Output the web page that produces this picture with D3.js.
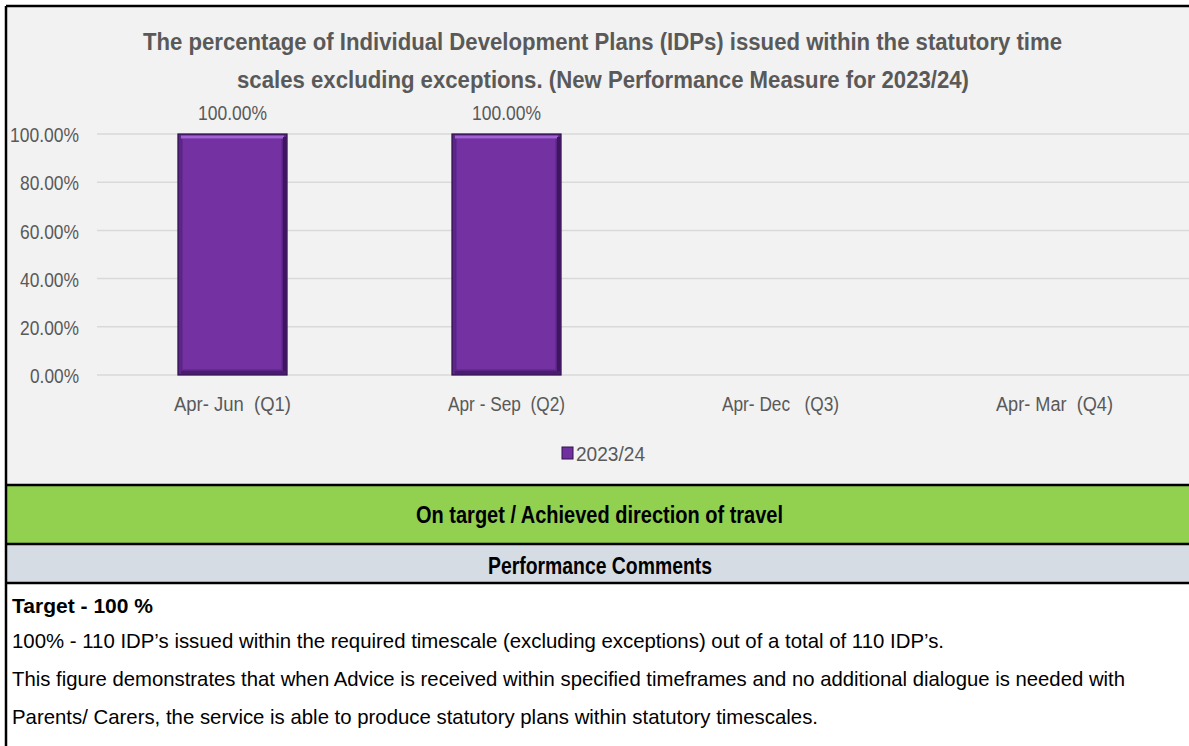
<!DOCTYPE html>
<html>
<head>
<meta charset="utf-8">
<script src="https://cdn.jsdelivr.net/npm/d3@7"></script>
<style>
  html, body { margin: 0; padding: 0; background: #fff; }
  text { font-family: "Liberation Sans Narrow", "Liberation Sans", "DejaVu Sans Condensed", sans-serif; white-space: pre; }
</style>
</head>
<body>
<div id="chart"></div>
<script>
// chart data
const categories = ['Apr- Jun  (Q1)', 'Apr - Sep  (Q2)', 'Apr- Dec   (Q3)', 'Apr- Mar  (Q4)'];
const values2023 = [1, 1, null, null];
const yTicks = [0, 0.2, 0.4, 0.6, 0.8, 1];
const seriesName = '2023/24';
const titleLines = [
  'The percentage of Individual Development Plans (IDPs) issued within the statutory time',
  'scales excluding exceptions. (New Performance Measure for 2023/24)'
];
const statusText = 'On target / Achieved direction of travel';
const commentsHeader = 'Performance Comments';
const commentLines = [
  '100% - 110 IDP\u2019s issued within the required timescale (excluding exceptions) out of a total of 110 IDP\u2019s.',
  'This figure demonstrates that when Advice is received within specified timeframes and no additional dialogue is needed with',
  'Parents/ Carers, the service is able to produce statutory plans within statutory timescales.'
];
const targetText = 'Target - 100 %';

const W = 1189, H = 746;
const svg = d3.select('#chart').append('svg')
  .attr('width', W).attr('height', H)
  .style('display', 'block');

// helper: text fitted to a width
function fitText(g, str, x, y, width, size, opts = {}) {
  return g.append('text')
    .attr('x', x).attr('y', y)
    .attr('text-anchor', opts.anchor || 'start')
    .attr('font-size', size)
    .attr('font-weight', opts.bold ? 'bold' : 'normal')
    .attr('fill', opts.fill || '#595959')
    .attr('textLength', width)
    .attr('lengthAdjust', 'spacingAndGlyphs')
    .text(str);
}

// ✅ Panels
svg.append('rect').attr('x', 6).attr('y', 6).attr('width', W - 6).attr('height', 479).attr('fill', '#f2f2f2');
svg.append('rect').attr('x', 6).attr('y', 486).attr('width', W - 6).attr('height', 58).attr('fill', '#92d050');
svg.append('rect').attr('x', 6).attr('y', 545).attr('width', W - 6).attr('height', 38).attr('fill', '#d6dce4');

const borders = [
  [6, 6, W, 6], [6, 6, 6, H], [6, 485, W, 485], [6, 544, W, 544], [6, 583, W, 583]
];
svg.append('g').selectAll('line').data(borders).join('line')
  .attr('x1', d => d[0]).attr('y1', d => d[1]).attr('x2', d => d[2]).attr('y2', d => d[3])
  .attr('stroke', '#000').attr('stroke-width', 2.5);

// ✅ Title
fitText(svg, titleLines[0], 602.5, 50, 919, 23, { anchor: 'middle', bold: true });
fitText(svg, titleLines[1], 603, 88, 732, 23, { anchor: 'middle', bold: true });

// ✅ Scales
const x = d3.scaleBand().domain(categories).range([95.5, 1191.5]).paddingInner(0.602).paddingOuter(0.301);
const y = d3.scaleLinear().domain([0, 1]).range([375, 134]);

// gridlines
svg.append('g').selectAll('line').data(yTicks).join('line')
  .attr('x1', 97).attr('x2', W)
  .attr('y1', d => y(d)).attr('y2', d => y(d))
  .attr('stroke', '#d9d9d9').attr('stroke-width', 1.5);

// y axis labels
const yAxis = svg.append('g')
  .attr('transform', 'translate(79,0)')
  .call(d3.axisLeft(y).tickValues(yTicks).tickFormat(d3.format('.2%')).tickSize(0).tickPadding(0));
yAxis.select('.domain').remove();
yAxis.selectAll('text')
  .attr('font-size', 20)
  .attr('font-family', '"Liberation Sans Narrow", "Liberation Sans", sans-serif')
  .attr('fill', '#595959')
  .attr('textLength', d => d === 1 ? 69 : (d === 0 ? 49 : 59))
  .attr('lengthAdjust', 'spacingAndGlyphs')
  .attr('dy', '0.38em');

// x axis labels
const xAxis = svg.append('g')
  .attr('transform', 'translate(0,393)')
  .call(d3.axisBottom(x).tickSize(0).tickPadding(0));
xAxis.select('.domain').remove();
xAxis.selectAll('text')
  .attr('font-size', 20)
  .attr('font-family', '"Liberation Sans Narrow", "Liberation Sans", sans-serif')
  .attr('fill', '#595959')
  .attr('textLength', 117)
  .attr('lengthAdjust', 'spacingAndGlyphs')
  .attr('dy', '0.92em');

// ✅ Bars (bevelled)
const barData = categories.map((c, i) => ({ cat: c, v: values2023[i] })).filter(d => d.v != null);
const bars = svg.append('g').selectAll('g').data(barData).join('g')
  .attr('transform', d => `translate(${x(d.cat)},${y(d.v)})`);
const bw = x.bandwidth();

bars.append('rect')
  .attr('width', bw).attr('height', d => y(0) - y(d.v))
  .attr('fill', '#5b2687').attr('stroke', '#2f1048').attr('stroke-width', 1.2);
bars.append('rect')
  .attr('x', 4).attr('y', 4)
  .attr('width', bw - 9).attr('height', d => y(0) - y(d.v) - 9)
  .attr('fill', '#7431a2').attr('stroke', '#5a2383').attr('stroke-width', 1);
bars.append('rect')
  .attr('x', 3).attr('y', 1.5)
  .attr('width', bw - 6).attr('height', 3)
  .attr('fill', '#a262d6');
bars.append('rect')
  .attr('x', bw - 4).attr('y', 3)
  .attr('width', 3).attr('height', d => y(0) - y(d.v) - 4)
  .attr('fill', '#3e1660');
bars.append('rect')
  .attr('x', 3).attr('y', d => y(0) - y(d.v) - 4)
  .attr('width', bw - 4).attr('height', 3)
  .attr('fill', '#4a1c70');

// data labels
svg.append('g').selectAll('text').data(barData).join('text')
  .attr('x', d => x(d.cat) + bw / 2)
  .attr('y', d => y(d.v) - 14)
  .attr('text-anchor', 'middle')
  .attr('font-size', 20)
  .attr('fill', '#595959')
  .attr('textLength', 69)
  .attr('lengthAdjust', 'spacingAndGlyphs')
  .text(d => d3.format('.2%')(d.v));

// ✅ Legend
svg.append('rect').attr('x', 562).attr('y', 447).attr('width', 11).attr('height', 12)
  .attr('fill', '#7030a0').attr('stroke', '#2f1048').attr('stroke-width', 1);
fitText(svg, seriesName, 576, 461, 69, 20);

// ✅ Status bands
fitText(svg, statusText, 599.5, 523, 367, 23, { anchor: 'middle', bold: true, fill: '#000' });
fitText(svg, commentsHeader, 600, 574, 224, 23, { anchor: 'middle', bold: true, fill: '#000' });

// ✅ Comments
fitText(svg, targetText, 12, 613, 141, 21, { bold: true, fill: '#000' });
const commentWidths = [932, 1113, 806];
commentLines.forEach((line, i) => {
  fitText(svg, line, 12, 648 + i * 38, commentWidths[i], 21, { fill: '#000' });
});
</script>
</body>
</html>
